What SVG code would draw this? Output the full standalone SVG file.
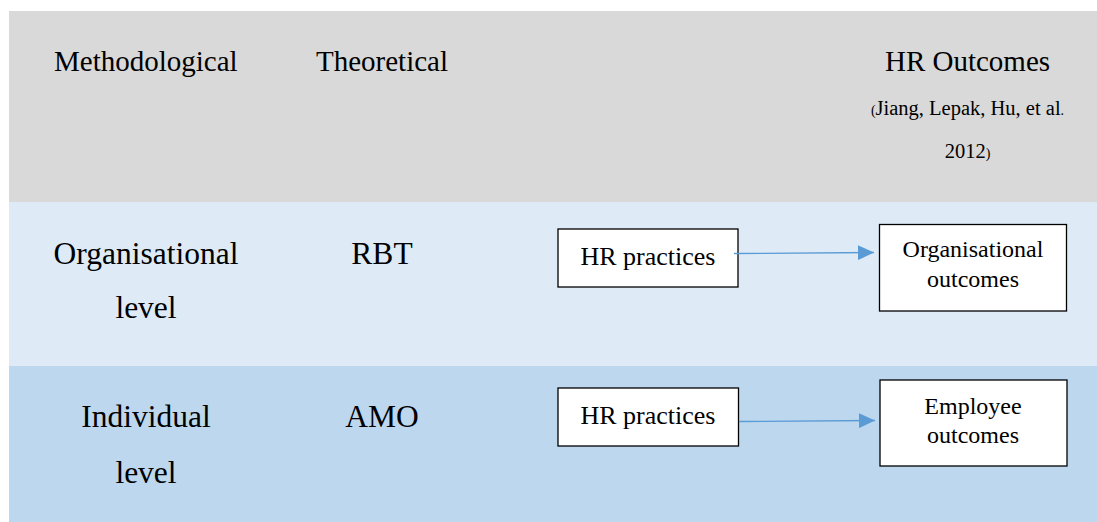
<svg xmlns="http://www.w3.org/2000/svg" width="1097" height="522" viewBox="0 0 1097 522">
<defs>
<style>
text{font-family:'Liberation Serif',serif;fill:#000}
.hd{font-size:29px}
.lv{font-size:31.5px;text-anchor:middle}
.bx{fill:#fff;stroke:#000;stroke-width:1.3}
.bt{font-size:24px;text-anchor:middle}
.bt26{font-size:26px;text-anchor:middle}
.cite{font-size:20.5px;text-anchor:middle}
.sm{font-size:14px}
.conn{stroke:#5b9bd5;stroke-width:1.3;fill:none}
</style>
<marker id="arr" markerWidth="16" markerHeight="15" refX="16" refY="7.5" orient="auto" markerUnits="userSpaceOnUse">
<path d="M0,0 L16,7.5 L0,15 Z" fill="#5b9bd5"/>
</marker>
</defs>
<rect x="0" y="0" width="1097" height="522" fill="#fff"/>
<g id="bands">
<rect x="9" y="11" width="1088" height="191" fill="#d9d9d9"/>
<rect x="9" y="202" width="1088" height="164" fill="#deebf7"/>
<rect x="9" y="366" width="1088" height="156" fill="#bdd7ee"/>
</g>
<g font-family="Liberation Serif, serif">
<g id="header">
<text class="hd" x="54" y="71">Methodological</text>
<text class="hd" x="316" y="71">Theoretical</text>
<text class="hd" x="967.5" y="71" text-anchor="middle">HR Outcomes</text>
<text class="cite" x="967.5" y="115"><tspan class="sm">(</tspan>Jiang, Lepak, Hu, et al<tspan class="sm">.</tspan></text>
<text class="cite" x="967.5" y="158">2012<tspan class="sm">)</tspan></text>
</g>
<g id="row-org">
<text class="lv" x="146" y="264">Organisational</text>
<text class="lv" x="146" y="318">level</text>
<text class="lv" x="382" y="264">RBT</text>
</g>
<g id="row-ind">
<text class="lv" x="146" y="427">Individual</text>
<text class="lv" x="146" y="483">level</text>
<text class="lv" x="382" y="427">AMO</text>
</g>
<g id="node-hr1">
<rect class="bx" x="558" y="229" width="180" height="58"/>
<text class="bt26" x="648" y="265">HR practices</text>
</g>
<g id="node-org-out">
<rect class="bx" x="879.5" y="224.5" width="187" height="86.5"/>
<text class="bt" x="973" y="257">Organisational</text>
<text class="bt" x="973" y="287">outcomes</text>
</g>
<g id="node-hr2">
<rect class="bx" x="558" y="388" width="180.5" height="58"/>
<text class="bt26" x="648" y="424">HR practices</text>
</g>
<g id="node-emp-out">
<rect class="bx" x="880" y="380" width="187" height="86"/>
<text class="bt" x="973" y="414">Employee</text>
<text class="bt" x="973" y="443">outcomes</text>
</g>
</g>
<g id="connectors">
<line class="conn" x1="734" y1="253.5" x2="874" y2="252.5" marker-end="url(#arr)"/>
<line class="conn" x1="739" y1="421.5" x2="875" y2="420.5" marker-end="url(#arr)"/>
</g>
</svg>
